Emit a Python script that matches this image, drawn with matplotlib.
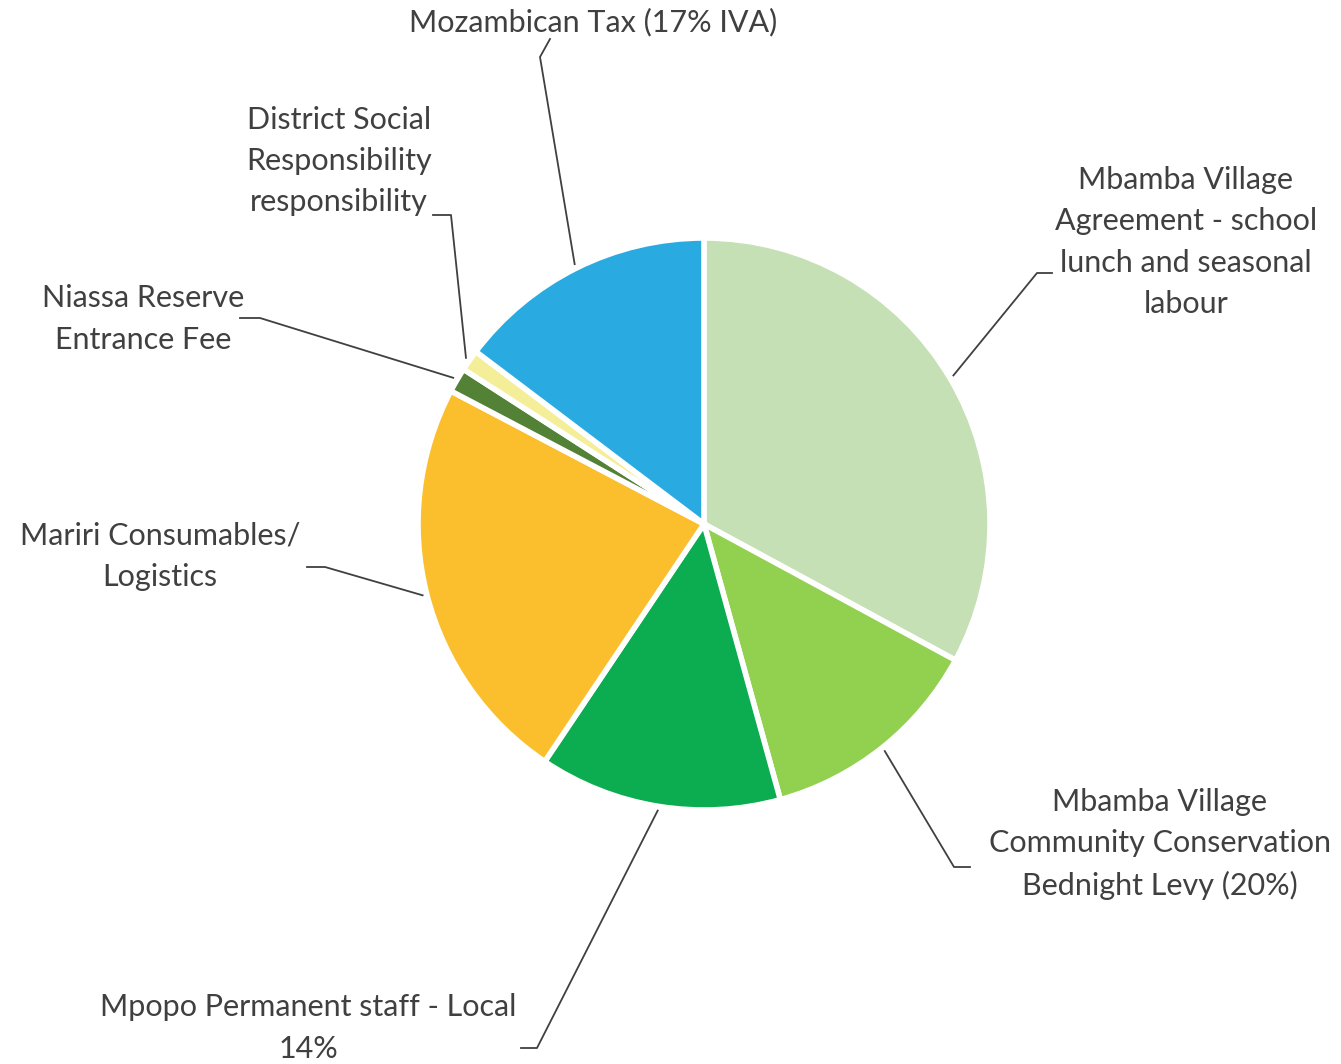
import numpy as np
import matplotlib.pyplot as plt

plt.rcParams['font.family'] = ['Lato', 'DejaVu Sans']

# slices, clockwise from 12 o'clock
labels = ["Mbamba Village\nAgreement - school\nlunch and seasonal\nlabour",
          "Mbamba Village\nCommunity Conservation\nBednight Levy (20%)",
          "Mpopo Permanent staff - Local\n14%",
          "Mariri Consumables/\nLogistics",
          "Niassa Reserve\nEntrance Fee",
          "District Social\nResponsibility\nresponsibility",
          "Mozambican Tax (17% IVA)"]
shares = [32.9, 12.8, 13.7, 23.3, 1.4, 1.2, 14.7]
colors = ["#C5E0B4", "#92D050", "#0BAD50", "#FBBF2D", "#538135", "#F5EE98", "#29ABE2"]

W, H = 1341, 1064
cx, cy, R = 704, H - 524, 286

# label text centre, elbow point, end of short horizontal (pixels from top-left)
text_pos = [(1186, 242), (1160, 844), (308, 1028), (160, 556), (143, 319), (339, 161), (593, 22)]
elbow = [(1037, 273), (954, 867), (537, 1048), (325, 567), (260, 318), (451, 215), (540, 57)]
tail = [(1052, 273), (970, 867), (521, 1048), (307, 567), (240, 318), (433, 215), (550, 39)]

fig = plt.figure(figsize=(W / 100, H / 100), dpi=100)
ax = fig.add_axes([0, 0, 1, 1])
wedges, _ = ax.pie(shares, colors=colors, startangle=90, counterclock=False,
                   center=(cx, cy), radius=R,
                   wedgeprops=dict(edgecolor="white", linewidth=4))
ax.set_xlim(0, W)
ax.set_ylim(0, H)
ax.set_aspect("equal")
ax.axis("off")

for w, lab, tp, el, tl in zip(wedges, labels, text_pos, elbow, tail):
    mid = np.deg2rad((w.theta1 + w.theta2) / 2)
    x0 = cx + R * 1.015 * np.cos(mid)
    y0 = cy + R * 1.015 * np.sin(mid)
    ax.plot([x0, el[0], tl[0]], [y0, H - el[1], H - tl[1]], color="#404040", lw=1.3)
    ax.text(tp[0], H - tp[1], lab, ha="center", va="center", multialignment="center",
            fontsize=22, color="#404040", linespacing=1.58)

fig.savefig("out.png", dpi=100)
